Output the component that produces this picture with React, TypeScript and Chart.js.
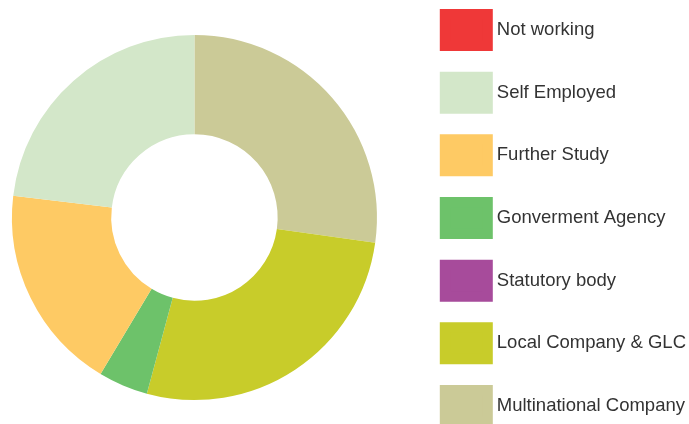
import React, { useEffect, useRef } from 'react';
import { Chart, registerables } from 'chart.js';

Chart.register(...registerables);

const LABELS = [
  'Not working',
  'Self Employed',
  'Further Study',
  'Gonverment Agency',
  'Statutory body',
  'Local Company & GLC',
  'Multinational Company',
];
const VALUES = [0, 23.1, 18.3, 4.4, 0, 27.0, 27.2];
const COLORS = ['#EF3838', '#D3E7C9', '#FECA64', '#6DC26A', '#A74B9B', '#C8CC2A', '#CBCA97'];

const FONT_FAMILY = '"Liberation Sans", Arial, sans-serif';
const FONT_SIZE = 18.5;
const STROKE = 10.5;
const BOX_W = 53 - STROKE;
const BOX_H = 42 - STROKE;
const PITCH = 62.67;
const PAD = PITCH - Math.max(FONT_SIZE, BOX_H);
const H = 480;

export default function App() {
  const canvasRef = useRef<HTMLCanvasElement>(null);
  const wrapRef = useRef<HTMLDivElement>(null);

  useEffect(() => {
    const canvas = canvasRef.current!;
    const wrap = wrapRef.current!;
    const ax = PAD - 51 - STROKE / 2;
    const cursorY = (PAD + H - 7 * PITCH) / 2;
    const ay = 9 - (cursorY - STROKE / 2);
    const titleH = 35 - ay;
    const subH = H - (400 - ay);

    wrap.style.left = `${ax}px`;
    wrap.style.top = `${ay}px`;

    const labels = [...LABELS].reverse();
    const values = [...VALUES].reverse();
    const colors = [...COLORS].reverse();

    const build = (W: number) => {
      canvas.width = W;
      canvas.height = H;
      canvas.style.width = `${W}px`;
      canvas.style.height = `${H}px`;
      return new Chart(canvas, {
        type: 'doughnut',
        data: {
          labels,
          datasets: [
            {
              data: values,
              backgroundColor: colors,
              borderWidth: 0,
              hoverOffset: 0,
              hoverBorderWidth: 0,
            },
          ],
        },
        options: {
          responsive: false,
          animation: false,
          events: [],
          cutout: '45.6%',
          layout: { padding: 0 },
          plugins: {
            tooltip: { enabled: false },
            title: {
              display: true,
              text: '',
              position: 'top',
              font: { size: 10, lineHeight: 1 },
              padding: { top: titleH - 10, bottom: 0 },
            },
            subtitle: {
              display: true,
              text: '',
              position: 'bottom',
              font: { size: 10, lineHeight: 1 },
              padding: { top: subH - 10, bottom: 0 },
            },
            legend: {
              position: 'right',
              reverse: true,
              labels: {
                boxWidth: BOX_W,
                boxHeight: BOX_H,
                padding: PAD,
                color: '#333333',
                font: { family: FONT_FAMILY, size: FONT_SIZE },
                generateLabels: (c: any) =>
                  c.data.labels.map((t: string, i: number) => ({
                    text: t,
                    fillStyle: colors[i],
                    strokeStyle: colors[i],
                    lineWidth: STROKE,
                    lineJoin: 'miter',
                    hidden: false,
                    index: i,
                    fontColor: '#333333',
                  })),
              },
            },
          },
        },
      });
    };

    let W = 720;
    let chart = build(W);
    const legend: any = chart.legend;
    const itemW = legend && legend.columnSizes && legend.columnSizes[0] ? legend.columnSizes[0].width : 0;
    if (itemW > 0) {
      const target = Math.round(itemW + 440 + STROKE / 2 - ax + 10);
      if (target !== W) {
        chart.destroy();
        W = target;
        chart = build(W);
      }
    }
    return () => chart.destroy();
  }, []);

  return (
    <div
      style={{
        position: 'absolute',
        left: 0,
        top: 0,
        width: 689,
        height: 424,
        overflow: 'hidden',
        background: '#ffffff',
      }}
    >
      <div ref={wrapRef} style={{ position: 'absolute' }}>
        <canvas ref={canvasRef} style={{ display: 'block' }} />
      </div>
    </div>
  );
}
